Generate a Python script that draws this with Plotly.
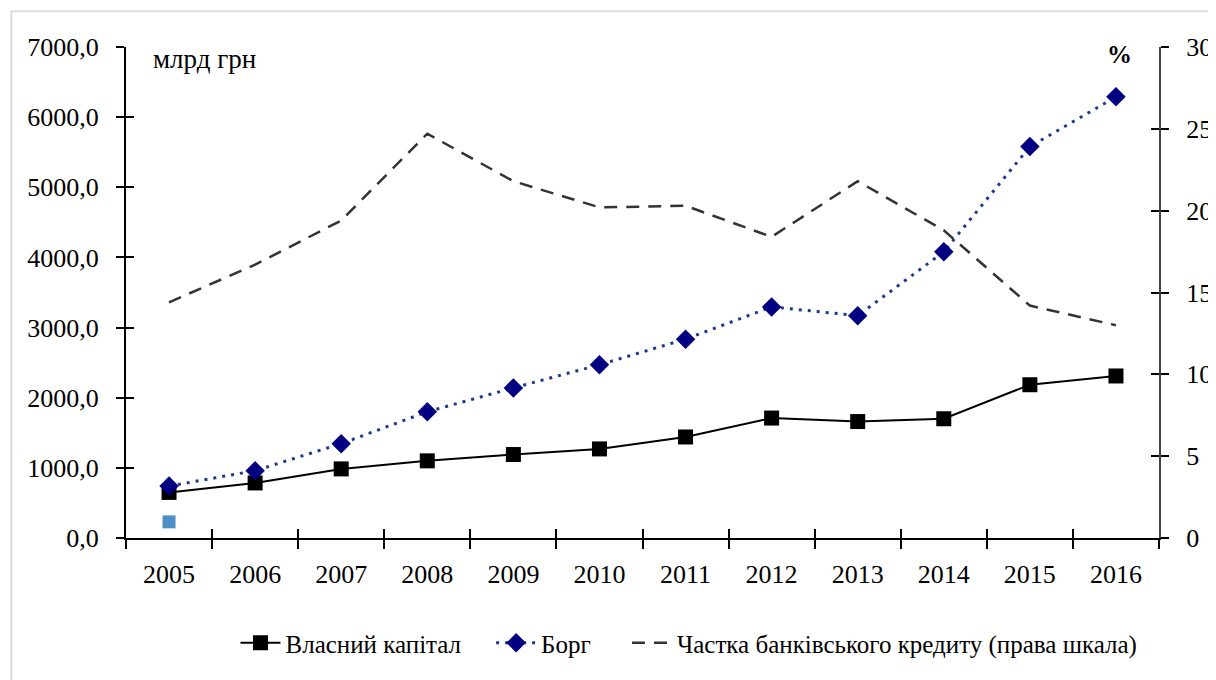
import plotly.graph_objects as go

years = ["2005", "2006", "2007", "2008", "2009", "2010", "2011", "2012", "2013", "2014", "2015", "2016"]
equity = [650, 785, 985, 1100, 1190, 1270, 1440, 1710, 1660, 1700, 2185, 2310]
debt = [740, 960, 1345, 1800, 2140, 2470, 2835, 3295, 3170, 4080, 5580, 6290]
bank_share = [14.4, 16.7, 19.4, 24.7, 21.8, 20.2, 20.3, 18.4, 21.8, 18.8, 14.2, 13.0]
stray_year = ["2005"]
stray_value = [230]

left_ticks = [0, 1000, 2000, 3000, 4000, 5000, 6000, 7000]
left_labels = ["0,0", "1000,0", "2000,0", "3000,0", "4000,0", "5000,0", "6000,0", "7000,0"]
right_ticks = [0, 5, 10, 15, 20, 25, 30]
right_labels = ["0", "5", "10", "15", "20", "25", "30"]

FONT = "Liberation Serif, Times New Roman, serif"
NB = "\u00a0"

fig = go.Figure()

fig.add_trace(go.Scatter(
    x=years, y=equity, name="Власний капітал" + NB * 4, mode="lines+markers",
    line=dict(color="#000000", width=2),
    marker=dict(symbol="square", size=15, color="#000000"),
    xaxis="x", yaxis="y"))
fig.add_trace(go.Scatter(
    x=years, y=debt, name="Борг" + NB * 5, mode="lines+markers",
    line=dict(color="#1c3a8c", width=3, dash="3px,6px"),
    marker=dict(symbol="diamond", size=15, color="#000080"),
    xaxis="x", yaxis="y"))
fig.add_trace(go.Scatter(
    x=years, y=bank_share, name="Частка банківського кредиту (права шкала)", mode="lines",
    line=dict(color="#333333", width=2.5, dash="13px,9px"),
    xaxis="x", yaxis="y2"))
fig.add_trace(go.Scatter(
    x=stray_year, y=stray_value, mode="markers", showlegend=False,
    marker=dict(symbol="square", size=13, color="#4f8fc6"),
    xaxis="x", yaxis="y"))

axis_font = dict(family=FONT, size=26, color="#000000")

fig.update_layout(
    width=1216, height=680,
    margin=dict(l=118, r=56, t=39, b=150),
    paper_bgcolor="#ffffff", plot_bgcolor="#ffffff",
    font=dict(family=FONT, color="#000000"),
    showlegend=True,
    legend=dict(orientation="h", x=0.545, xanchor="center", y=-0.214, yanchor="middle",
                font=dict(family=FONT, size=25, color="#000000"),
                itemwidth=40, tracegroupgap=0, bgcolor="rgba(0,0,0,0)"),
    xaxis=dict(type="category", categoryorder="array", categoryarray=years,
               range=[-0.5, 11.5], showline=True, linecolor="#000000", linewidth=2,
               ticks="outside", ticklen=9, tickwidth=2, tickcolor="#000000",
               tickson="boundaries", showgrid=False, zeroline=False,
               tickfont=axis_font, ticklabelstandoff=12),
    xaxis2=dict(type="category", categoryorder="array", categoryarray=years,
                range=[-0.5, 11.5], overlaying="x", anchor="y", showline=False,
                ticks="inside", ticklen=9, tickwidth=2, tickcolor="#000000",
                tickson="boundaries", showticklabels=False, showgrid=False, zeroline=False),
    yaxis=dict(range=[0, 7000], tickvals=left_ticks, ticktext=left_labels,
               showline=True, linecolor="#000000", linewidth=2,
               ticks="outside", ticklen=8, tickwidth=2, tickcolor="#000000",
               showgrid=False, zeroline=False, tickfont=axis_font, ticklabelstandoff=12),
    yaxis2=dict(range=[0, 30], tickvals=right_ticks, ticktext=right_labels,
                overlaying="y", side="right", anchor="x",
                showline=True, linecolor="#444444", linewidth=2,
                ticks="outside", ticklen=8, tickwidth=2, tickcolor="#000000",
                showgrid=False, zeroline=False, tickfont=axis_font, ticklabelstandoff=12),
    yaxis3=dict(range=[0, 7000], tickvals=left_ticks, overlaying="y", side="left", anchor="x",
                showline=False, ticks="inside", ticklen=8, tickwidth=2, tickcolor="#000000",
                showticklabels=False, showgrid=False, zeroline=False),
    yaxis4=dict(range=[0, 30], tickvals=right_ticks, overlaying="y", side="right", anchor="x",
                showline=False, ticks="inside", ticklen=8, tickwidth=2, tickcolor="#000000",
                showticklabels=False, showgrid=False, zeroline=False),
)

fig.add_trace(go.Scatter(x=[None], y=[None], xaxis="x2", yaxis="y3", showlegend=False, hoverinfo="skip"))
fig.add_trace(go.Scatter(x=[None], y=[None], xaxis="x2", yaxis="y4", showlegend=False, hoverinfo="skip"))

fig.add_annotation(text="млрд грн", xref="paper", yref="paper", x=0.024, y=0.975,
                   xanchor="left", yanchor="middle", showarrow=False,
                   font=dict(family=FONT, size=27, color="#000000"))
fig.add_annotation(text="<b>%</b>", xref="paper", yref="paper", x=0.962, y=0.985,
                   xanchor="center", yanchor="middle", showarrow=False,
                   font=dict(family=FONT, size=25, color="#000000"))

fig.add_shape(type="rect", xref="paper", yref="paper", x0=-0.111, y0=1.073, x1=1.2, y1=-0.4,
              line=dict(color="#dcdcdc", width=2), fillcolor="rgba(0,0,0,0)", layer="below")

fig.write_html("out.html")
